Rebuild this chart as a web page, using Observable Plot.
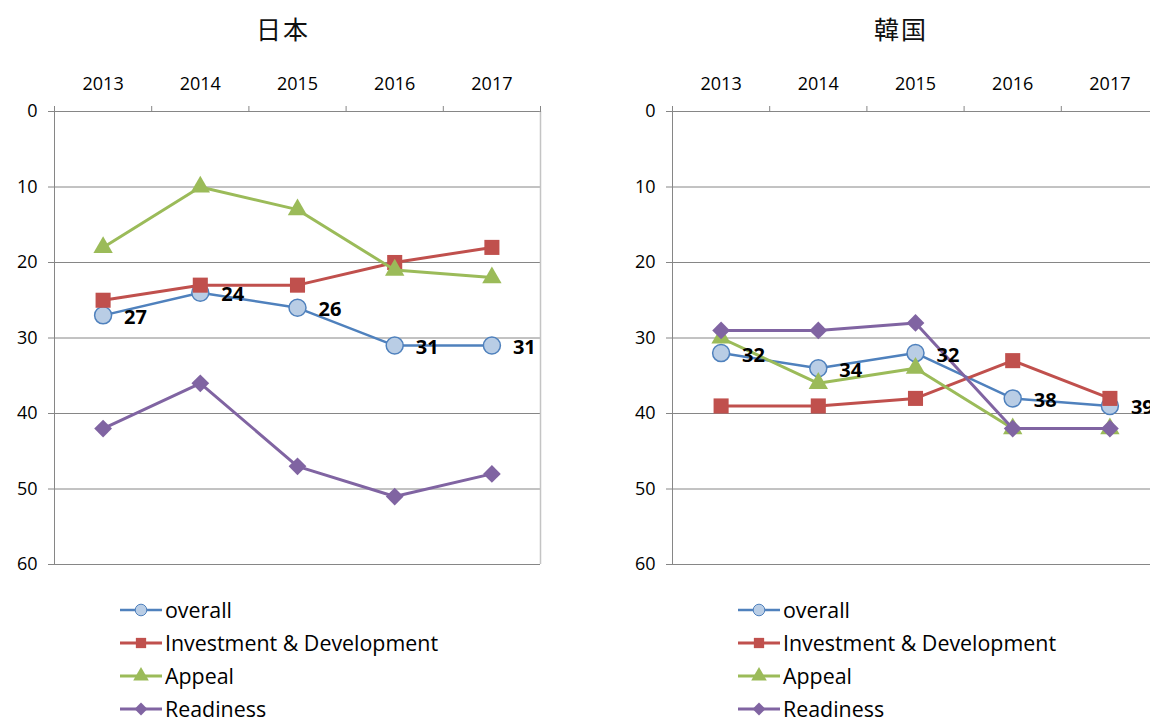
<!DOCTYPE html>
<html><head><meta charset="utf-8">
<script src="https://cdn.jsdelivr.net/npm/d3@7"></script>
<script src="https://cdn.jsdelivr.net/npm/@observablehq/plot@0.6"></script>
<style>
html,body{margin:0;padding:0;background:#fff;overflow:hidden;width:1150px;height:718px}
.panel{position:absolute;top:0;width:575px;height:718px}
.title{position:absolute;top:10px;left:0;width:566px;text-align:center;font-family:"Noto Sans CJK JP";font-size:25px;letter-spacing:2px;color:#111}
.chart{position:absolute;top:50px;left:0}
.legend{position:absolute;left:118px;top:593px;font-family:"Open Sans";font-size:21.4px;color:#000}
.row{height:33px;display:flex;align-items:center;white-space:nowrap}
.row svg{margin-right:1px}
</style></head><body>
<div id="root"></div>
<script>
const years = [2013, 2014, 2015, 2016, 2017];
const yTicks = [0, 10, 20, 30, 40, 50, 60];
const seriesNames = ["overall", "Investment & Development", "Appeal", "Readiness"];
const seriesColors = ["#4F81BD", "#C0504D", "#9BBB59", "#8064A2"];
const markerFills = ["#B9CDE5", "#C0504D", "#9BBB59", "#8064A2"];
const markerSymbols = ["circle", "square", "triangle", "diamond2"];
const panelTitles = ["日本", "韓国"];

const japanOverall = [27, 24, 26, 31, 31];
const japanInvestment = [25, 23, 23, 20, 18];
const japanAppeal = [18, 10, 13, 21, 22];
const japanReadiness = [42, 36, 47, 51, 48];

const koreaOverall = [32, 34, 32, 38, 39];
const koreaInvestment = [39, 39, 38, 33, 38];
const koreaAppeal = [30, 36, 34, 42, 42];
const koreaReadiness = [29, 29, 28, 42, 42];

const panels = [
  {title: panelTitles[0], left: 0, values: [japanOverall, japanInvestment, japanAppeal, japanReadiness]},
  {title: panelTitles[1], left: 618, values: [koreaOverall, koreaInvestment, koreaAppeal, koreaReadiness]}
];

const markerR = [8.5, 8.5, 7.2, 8];
const lineW = [2.5, 3, 3, 3];

function makeChart(values) {
  const x0 = years[0] - 0.5, x1 = years[years.length - 1] + 0.5;
  const bounds = d3.range(x0, x1 + 0.001, 1);
  const marks = [
    Plot.gridY(yTicks, {stroke: "#868686", strokeOpacity: 1, strokeWidth: 1}),
    Plot.ruleX([x0], {stroke: "#868686"}),
    Plot.ruleX([x1], {stroke: "#c4c4c4", strokeWidth: 1.5}),
    Plot.axisY(yTicks, {anchor: "left", tickSize: 6, tickPadding: 11, fontSize: 18, stroke: "#868686", fill: "#000", label: null}),
    Plot.axisX(bounds, {anchor: "top", tickSize: 6, tickFormat: () => "", stroke: "#868686", label: null}),
    Plot.axisX(years, {anchor: "top", tickSize: 0, tickPadding: 22, fontSize: 18, fill: "#000", label: null, tickFormat: d => String(d)})
  ];
  values.forEach((vals, k) => {
    const rows = years.map((yr, i) => ({year: yr, value: vals[i]}));
    marks.push(Plot.line(rows, {x: "year", y: "value", stroke: seriesColors[k], strokeWidth: lineW[k]}));
    marks.push(Plot.dot(rows, {x: "year", y: "value", symbol: markerSymbols[k], r: markerR[k],
      fill: markerFills[k], stroke: k === 0 ? seriesColors[0] : "none", strokeWidth: 1.5}));
  });
  const overallRows = years.map((yr, i) => ({year: yr, value: values[0][i]}));
  marks.push(Plot.text(overallRows, {x: "year", y: "value", text: d => String(d.value), dx: 21, dy: 2,
    textAnchor: "start", fontWeight: "bold", fontSize: 20, fill: "#000"}));
  return Plot.plot({
    width: 575, height: 520,
    marginLeft: 54, marginRight: 35, marginTop: 61, marginBottom: 6,
    style: {fontFamily: "Open Sans", fontSize: "18px", overflow: "visible", background: "transparent"},
    x: {type: "linear", domain: [x0, x1], axis: null},
    y: {domain: [0, 60], reverse: true, axis: null},
    marks
  });
}

function legend() {
  const div = document.createElement("div");
  div.className = "legend";
  seriesNames.forEach((name, k) => {
    const row = document.createElement("div");
    row.className = "row";
    const svg = d3.create("svg").attr("width", 46).attr("height", 20);
    svg.append("line").attr("x1", 2).attr("x2", 44).attr("y1", 10).attr("y2", 10)
      .attr("stroke", seriesColors[k]).attr("stroke-width", lineW[k]);
    const symMap = {circle: d3.symbolCircle, square: d3.symbolSquare, triangle: d3.symbolTriangle, diamond2: d3.symbolDiamond2};
    const r = 5.8;
    svg.append("path").attr("d", d3.symbol(symMap[markerSymbols[k]], Math.PI * r * r)())
      .attr("transform", "translate(23,10)")
      .attr("fill", markerFills[k]).attr("stroke", k === 0 ? seriesColors[0] : "none").attr("stroke-width", 1);
    row.appendChild(svg.node());
    const span = document.createElement("span");
    span.textContent = name;
    row.appendChild(span);
    div.appendChild(row);
  });
  return div;
}

const root = document.getElementById("root");
panels.forEach(p => {
  const panel = document.createElement("div");
  panel.className = "panel";
  panel.style.left = p.left + "px";
  const t = document.createElement("div");
  t.className = "title";
  t.textContent = p.title;
  panel.appendChild(t);
  const c = document.createElement("div");
  c.className = "chart";
  c.appendChild(makeChart(p.values));
  panel.appendChild(c);
  panel.appendChild(legend());
  root.appendChild(panel);
});
</script>
</body></html>
